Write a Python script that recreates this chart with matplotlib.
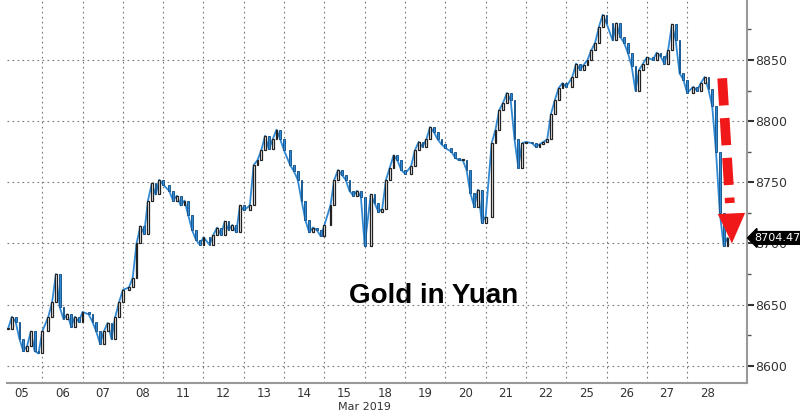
import numpy as np
import matplotlib
matplotlib.use("Agg")
import matplotlib.pyplot as plt
import matplotlib.transforms as mtransforms
from matplotlib.patches import Polygon

# trading days, March 2019
days = ['05', '06', '07', '08', '11', '12', '13', '14', '15',
        '18', '19', '20', '21', '22', '25', '26', '27', '28']

# intraday prices (yuan / oz), ~10 readings per session
p05 = [8630, 8640, 8636, 8622, 8612, 8616, 8628, 8612, 8610, 8628]
p06 = [8640, 8652, 8675, 8648, 8638, 8642, 8632, 8640, 8636, 8644]
p07 = [8642, 8636, 8628, 8618, 8628, 8635, 8622, 8640, 8652, 8662]
p08 = [8664, 8672, 8700, 8714, 8708, 8735, 8749, 8740, 8752, 8748]
p11 = [8743, 8735, 8739, 8731, 8735, 8723, 8711, 8703, 8699, 8705]
p12 = [8699, 8707, 8713, 8707, 8718, 8711, 8715, 8709, 8731, 8727]
p13 = [8731, 8764, 8768, 8776, 8788, 8777, 8785, 8793, 8785, 8776]
p14 = [8764, 8759, 8752, 8735, 8719, 8709, 8713, 8711, 8706, 8715]
p15 = [8731, 8752, 8760, 8756, 8752, 8743, 8739, 8743, 8738, 8698]
p18 = [8740, 8733, 8726, 8728, 8752, 8762, 8772, 8768, 8760, 8757]
p19 = [8763, 8776, 8783, 8779, 8785, 8795, 8791, 8785, 8781, 8778]
p20 = [8775, 8770, 8768, 8768, 8760, 8741, 8730, 8744, 8717, 8722]
p21 = [8782, 8793, 8809, 8815, 8823, 8817, 8785, 8762, 8782, 8783]
p22 = [8782, 8779, 8781, 8783, 8785, 8806, 8817, 8827, 8831, 8828]
p25 = [8836, 8847, 8842, 8846, 8850, 8858, 8864, 8877, 8887, 8880]
p26 = [8866, 8880, 8869, 8864, 8856, 8845, 8825, 8842, 8847, 8852]
p27 = [8850, 8856, 8853, 8847, 8858, 8879, 8866, 8839, 8834, 8823]
p28 = [8828, 8825, 8831, 8836, 8826, 8812, 8775, 8725, 8698, 8704.47]
sessions = [p05, p06, p07, p08, p11, p12, p13, p14, p15,
            p18, p19, p20, p21, p22, p25, p26, p27, p28]

last_price = 8704.47
title = 'Gold in Yuan'

# build x positions: each session fills one unit on the x axis
xs, ys = [], []
for d, s in enumerate(sessions):
    n = len(s)
    for i, v in enumerate(s):
        xs.append(d + 0.15 + 0.85 * i / (n - 1))
        ys.append(v)
xs = np.array(xs)
ys = np.array(ys)

fig = plt.figure(figsize=(8, 4.13), dpi=100)
ax = fig.add_axes([0.009, 0.073, 0.925, 0.927])

blue = '#3089d4'
# continuous line underneath
ax.plot(xs, ys, color=blue, lw=1.3, zorder=3)
# candle-like bars: open = previous close
opens = np.r_[ys[0], ys[:-1]]
up = ys >= opens
low = np.minimum(opens, ys)
h = np.maximum(np.abs(ys - opens), 1.0)
ax.bar(xs[up], h[up], bottom=low[up], width=0.045, facecolor='white',
       edgecolor='#222222', linewidth=0.9, zorder=4)
ax.bar(xs[~up], h[~up], bottom=low[~up], width=0.045, facecolor=blue,
       edgecolor='#1d5a90', linewidth=0.7, zorder=4)

ax.set_xlim(0.13, 18.49)
ax.set_ylim(8586, 8899)

# grid: day separators and price levels
ax.set_xticks(np.arange(1, len(days)))
ax.set_xticks(np.arange(len(days)) + 0.5, minor=True)
ax.set_xticklabels([], minor=False)
ax.set_xticklabels(days, minor=True)
ax.tick_params(axis='x', which='both', length=0, labelsize=8.5,
               labelcolor='#333333', pad=3)
ax.grid(True, axis='x', which='major', linestyle=(0, (1.5, 3)),
        color='#777777', lw=0.8)

ax.yaxis.tick_right()
ax.set_yticks([8600, 8650, 8700, 8750, 8800, 8850])
ax.set_yticks(np.arange(8625, 8900, 50), minor=True)
ax.tick_params(axis='y', which='major', length=5, width=1.5,
               color='#333333', labelsize=9, labelcolor='#333333', pad=1)
ax.tick_params(axis='y', which='minor', length=3, width=1, color='#555555')
ax.grid(True, axis='y', which='major', linestyle=(0, (1.5, 3)),
        color='#777777', lw=0.8)
ax.set_axisbelow(True)

for side in ['top', 'left']:
    ax.spines[side].set_visible(False)
for side in ['right', 'bottom']:
    ax.spines[side].set_color('#999999')
    ax.spines[side].set_linewidth(1.5)

# month label under the axis
trans = mtransforms.blended_transform_factory(ax.transData, ax.transAxes)
ax.text(9, -0.064, 'Mar 2019', transform=trans, ha='center', va='center',
        fontsize=8, color='#333333')

# last price tag
ax.annotate(f'{last_price:.2f}', xy=(1.0, last_price),
            xycoords=('axes fraction', 'data'),
            xytext=(5, 0), textcoords='offset points',
            ha='left', va='center', fontsize=8, color='white',
            bbox=dict(boxstyle='larrow,pad=0.12', fc='black', ec='black'),
            annotation_clip=False, zorder=10)

# title in the plot
ax.text(10.7, 8657, title, ha='center', va='center', fontsize=20,
        fontweight='bold', family='Liberation Sans', color='black')

# red dashed arrow
red = '#f01818'
ax.plot([17.87, 18.06], [8835, 8733], color=red, lw=7,
        linestyle=(0, (2.8, 1.3)), zorder=6)
ax.add_patch(Polygon([[17.76, 8724], [18.44, 8725], [18.11, 8700]],
                     closed=True, fc=red, ec='none', zorder=6,
                     clip_on=False))

fig.savefig('out.png', dpi=100)
